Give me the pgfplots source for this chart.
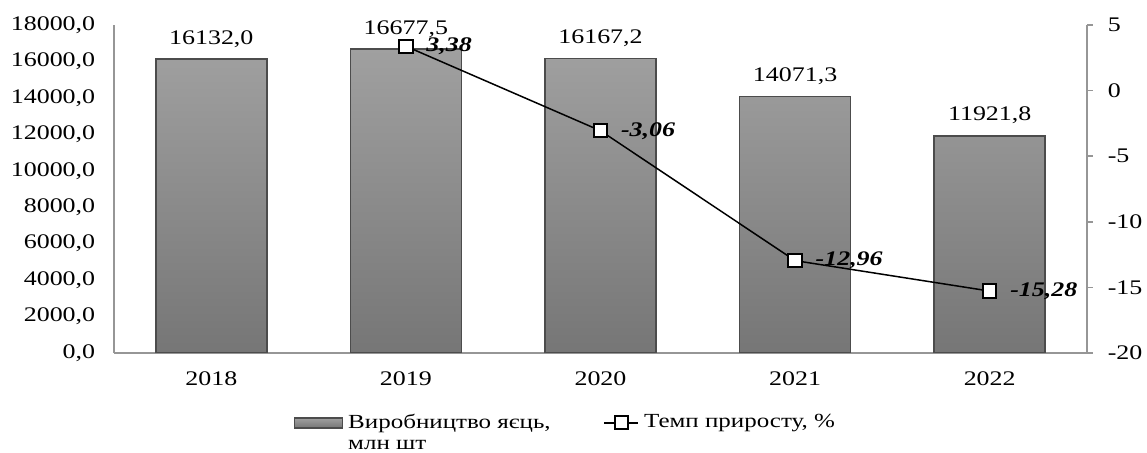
\documentclass[border=0pt]{standalone}
\usepackage{fontspec}
\setmainfont{Liberation Serif}
\newfontfamily\wide{Liberation Serif}[FakeStretch=1.25]
\usepackage{pgfplots}
\pgfplotsset{compat=1.18}
\pgfkeys{/pgf/number format/assume math mode=true}

\definecolor{bartop}{RGB}{160,160,160}
\definecolor{barbot}{RGB}{118,118,118}
\definecolor{axisgray}{RGB}{150,150,150}

\pgfplotsset{
    linelegend/.style={legend image code/.code={\draw[mark repeat=2, mark phase=2, ##1] plot coordinates {(0pt,0pt) (6.8pt,0pt) (13.6pt,0pt)};}},
    barlegend/.style={legend image code/.code={\draw[draw=black!70, line width=0.6pt, top color=bartop, bottom color=barbot] (0pt,-2pt) rectangle (19.2pt,2pt);}},
}

\begin{document}
\begin{tikzpicture}
\path[use as bounding box] (-45.6pt,-40pt) rectangle (413.2pt,141.2pt);

% bars: egg production
\begin{axis}[
    scale only axis, width=389.2pt, height=131.2pt,
    xmin=-0.5, xmax=4.5, ymin=0, ymax=18000,
    axis x line*=bottom, axis y line*=left,
    axis line style={axisgray, line width=0.6pt},
    xtick={0,1,2,3,4}, xticklabels={2018,2019,2020,2021,2022},
    ytick={0,2000,...,18000},
    scaled y ticks=false,
    major tick length=0pt,
    yticklabel style={font=\wide\fontsize{8.3}{10}\selectfont, xshift=-4pt,
        /pgf/number format/.cd, fixed, fixed zerofill, precision=1, use comma, 1000 sep={}},
    xticklabel style={font=\wide\fontsize{8.3}{10}\selectfont, yshift=-4pt},
    bar width=44.4pt,
    nodes near coords={\pgfmathprintnumber[fixed,fixed zerofill,precision=1,use comma,1000 sep={}]{\pgfplotspointmeta}},
    every node near coord/.append style={font=\wide\fontsize{8.3}{10}\selectfont, anchor=base, yshift=6pt, text=black},
]
\addplot[ybar, draw=black!70, line width=0.6pt, top color=bartop, bottom color=barbot]
coordinates {(0,16132.0) (1,16677.5) (2,16167.2) (3,14071.3) (4,11921.8)};
\end{axis}

% line: growth rate
\begin{axis}[
    scale only axis, width=389.2pt, height=131.2pt,
    xmin=-0.5, xmax=4.5, ymin=-20, ymax=5,
    axis y line*=right, axis x line=none,
    y axis line style={axisgray, line width=0.6pt},
    ytick={-20,-15,...,5},
    tick align=outside, major tick length=2.4pt,
    tick style={axisgray, line width=0.6pt},
    yticklabel style={font=\wide\fontsize{8.3}{10}\selectfont, xshift=2.4pt},
    legend style={at={(0.1765,-0.213)}, anchor=west, draw=none, fill=none,
        legend columns=2, font=\wide\fontsize{8}{10}\selectfont,
        /tikz/every even column/.append style={column sep=19.2pt}},
]
\addlegendimage{barlegend}
\addlegendentry{\makebox[0pt][l]{\raisebox{-8.6pt}[0pt][0pt]{млн шт}}Виробництво яєць,}
\addplot[black, line width=0.6pt, mark=square*, mark size=2.65pt,
    mark options={fill=white, draw=black, line width=0.8pt},
    linelegend,
    nodes near coords={\pgfmathprintnumber[fixed,fixed zerofill,precision=2,use comma]{\pgfplotspointmeta}},
    every node near coord/.append style={font=\wide\bfseries\itshape\fontsize{8.3}{10}\selectfont, anchor=west, xshift=4.5pt, text=black}]
coordinates {(1,3.38) (2,-3.06) (3,-12.96) (4,-15.28)};
\addlegendentry{Темп приросту, \%}
\end{axis}
\end{tikzpicture}
\end{document}
